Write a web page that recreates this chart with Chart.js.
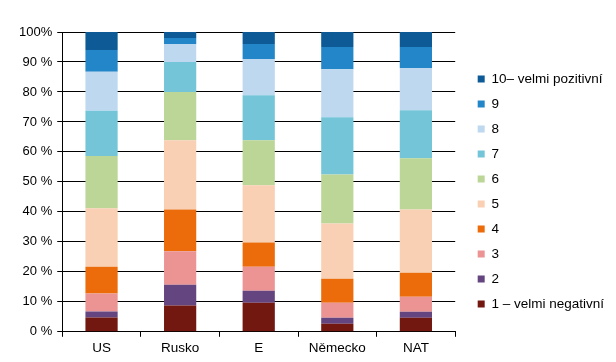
<!DOCTYPE html>
<html>
<head>
<meta charset="utf-8">
<script src="https://cdn.jsdelivr.net/npm/chart.js@4/dist/chart.umd.min.js"></script>
<style>
html,body{margin:0;padding:0;background:#fff;overflow:hidden;}
canvas{display:block;}
</style>
</head>
<body>
<canvas id="c" width="616" height="362"></canvas>
<script>
const categories = ["US", "Rusko", "E", "Německo", "NAT"];
const seriesLabels = ["1 – velmi negativní", "2", "3", "4", "5", "6", "7", "8", "9", "10– velmi pozitivní"];
const s1  = [4.8, 8.8, 9.7, 2.7, 4.7];
const s2  = [2.0, 6.9, 4.0, 2.0, 2.0];
const s3  = [6.0, 11.2, 8.0, 5.0, 5.0];
const s4  = [8.9, 13.9, 8.1, 8.0, 8.0];
const s5  = [19.5, 23.1, 19.1, 18.4, 21.1];
const s6  = [17.4, 16.1, 15.0, 16.4, 17.1];
const s7  = [15.1, 10.0, 15.0, 19.1, 16.0];
const s8  = [13.0, 6.0, 12.1, 16.0, 14.1];
const s9  = [7.3, 2.0, 5.0, 7.4, 7.0];
const s10 = [6.0, 2.0, 4.0, 5.0, 5.0];
const yTicks = [0, 10, 20, 30, 40, 50, 60, 70, 80, 90, 100];

const seriesValues = [s1, s2, s3, s4, s5, s6, s7, s8, s9, s10];
const colors = ["#731811", "#644580", "#ec9494", "#ec6c0c", "#f9d0b3", "#bbd697", "#75c5d9", "#bed8f0", "#2286c9", "#0d5a97"];

const FONT = "'Liberation Sans', Arial, sans-serif";
const LEGEND_GAP = 11;
const LEGEND_SHIFT_UP = 4;

const datasets = seriesValues.map((vals, i) => ({
  label: seriesLabels[i],
  data: vals,
  backgroundColor: colors[i],
  borderWidth: 0,
  barPercentage: 0.41,
  categoryPercentage: 1.0
}));

const legendGapPlugin = {
  id: 'legendGap',
  afterInit(chart) {
    const lg = chart.legend;
    if (!lg) return;
    const origFit = lg.fit.bind(lg);
    lg.fit = function () { origFit(); this.width += LEGEND_GAP; };
  },
  afterLayout(chart) {
    const lg = chart.legend;
    if (!lg) return;
    lg.left += LEGEND_GAP;
    lg.right += LEGEND_GAP;
    lg.top -= LEGEND_SHIFT_UP;
    lg.bottom -= LEGEND_SHIFT_UP;
  }
};

new Chart(document.getElementById('c'), {
  type: 'bar',
  data: { labels: categories, datasets },
  plugins: [legendGapPlugin],
  options: {
    responsive: false,
    animation: false,
    layout: { padding: { top: 32, left: 14, right: 2, bottom: 3 } },
    plugins: {
      tooltip: { enabled: false },
      legend: {
        position: 'right',
        reverse: true,
        align: 'center',
        labels: {
          boxWidth: 7,
          boxHeight: 7,
          padding: 11.5,
          color: '#000',
          font: { family: FONT, size: 13.5 }
        }
      }
    },
    scales: {
      x: {
        stacked: true,
        grid: {
          offset: true,
          drawOnChartArea: false,
          drawTicks: true,
          tickLength: 5,
          color: '#000'
        },
        border: { color: '#000', width: 1 },
        ticks: { color: '#000', padding: 3, font: { family: FONT, size: 13.5 }, maxRotation: 0 }
      },
      y: {
        stacked: true,
        min: 0,
        max: 100,
        afterBuildTicks: (axis) => { axis.ticks = yTicks.map(v => ({ value: v })); },
        grid: { color: '#000', tickLength: 5, drawTicks: true },
        border: { color: '#000', width: 1 },
        ticks: {
          color: '#000',
          padding: 5,
          font: { family: FONT, size: 13 },
          callback: (v) => v === 100 ? '100%' : v + ' %'
        }
      }
    }
  }
});
</script>
</body>
</html>
